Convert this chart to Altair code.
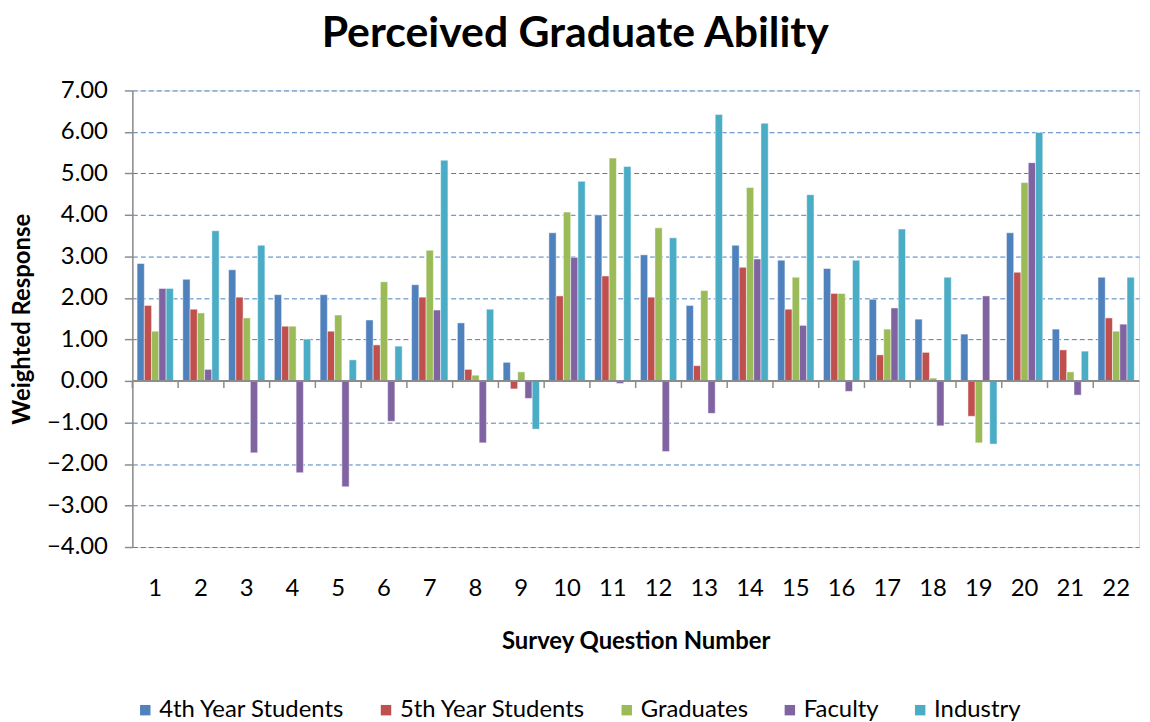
import altair as alt
import pandas as pd

questions = [str(i) for i in range(1, 23)]
series = ["4th Year Students", "5th Year Students", "Graduates", "Faculty", "Industry"]
colors = ["#4F81BD", "#C0504D", "#9BBB59", "#8064A2", "#4BACC6"]

fourth = [2.83, 2.45, 2.68, 2.08, 2.08, 1.47, 2.32, 1.40, 0.45, 3.57, 4.00,
          3.04, 1.82, 3.27, 2.91, 2.71, 1.97, 1.49, 1.13, 3.57, 1.25, 2.50]
fifth = [1.82, 1.73, 2.02, 1.32, 1.20, 0.87, 2.02, 0.28, -0.19, 2.05, 2.53,
         2.02, 0.37, 2.74, 1.73, 2.11, 0.63, 0.69, -0.85, 2.62, 0.75, 1.52]
graduates = [1.20, 1.64, 1.52, 1.32, 1.59, 2.39, 3.15, 0.14, 0.22, 4.07, 5.37,
             3.69, 2.18, 4.66, 2.50, 2.11, 1.25, 0.07, -1.49, 4.78, 0.22, 1.20]
faculty = [2.23, 0.28, -1.73, -2.21, -2.55, -0.97, 1.71, -1.49, -0.42, 2.98, -0.06,
           -1.70, -0.78, 2.94, 1.34, -0.25, 1.76, -1.08, 2.05, 5.26, -0.34, 1.37]
industry = [2.23, 3.62, 3.27, 1.01, 0.51, 0.84, 5.32, 1.73, -1.16, 4.81, 5.17,
            3.45, 6.42, 6.21, 4.49, 2.91, 3.66, 2.50, -1.52, 5.99, 0.72, 2.50]

y_ticks = [-4, -3, -2, -1, 0, 1, 2, 3, 4, 5, 6, 7]

values = [fourth, fifth, graduates, faculty, industry]
rows = []
for s, vals in zip(series, values):
    for q, v in zip(questions, vals):
        rows.append({"q": q, "series": s, "v": v})
df = pd.DataFrame(rows)
qdf = pd.DataFrame({"q": questions})

FONT = "Lato"
FS = 24

x_axis = alt.Axis(title="Survey Question Number", labelAngle=0, ticks=False,
                  domain=False, labelPadding=30, titlePadding=29,
                  labelFontSize=FS, titleFontSize=FS, titleFontWeight="bold",
                  labelColor="#000000", titleColor="#000000",
                  labelFont=FONT, titleFont=FONT)
x_scale = alt.Scale(paddingInner=0, paddingOuter=0)

y_enc = alt.Y("v:Q", scale=alt.Scale(domain=[-4, 7], nice=False),
              axis=alt.Axis(title="Weighted Response", values=y_ticks, format=".2f",
                            grid=True, gridDash=[5, 3], gridColor="#4A7EBB", gridWidth=1,
                            domainColor="#8C8C8C", domainWidth=1.5,
                            tickColor="#8C8C8C", tickSize=8, tickWidth=1.5,
                            labelPadding=17, titlePadding=12,
                            labelFontSize=FS, titleFontSize=FS, titleFontWeight="bold",
                            labelColor="#000000", titleColor="#000000",
                            labelFont=FONT, titleFont=FONT))

bars = alt.Chart(df).mark_bar(stroke="#FFFFFF", strokeWidth=0.6, strokeOpacity=0.8).encode(
    x=alt.X("q:N", sort=questions, scale=x_scale, axis=x_axis),
    xOffset=alt.XOffset("series:N", sort=series,
                        scale=alt.Scale(paddingInner=0, paddingOuter=0.65)),
    y=y_enc,
    color=alt.Color("series:N", sort=series,
                    scale=alt.Scale(domain=series, range=colors),
                    legend=alt.Legend(title=None, orient="none", legendX=1, legendY=611,
                                      direction="horizontal", columns=5,
                                      symbolType="square", symbolSize=110,
                                      symbolStrokeWidth=0, labelFontSize=FS,
                                      labelFont=FONT, labelColor="#000000",
                                      labelLimit=0, labelOffset=2, columnPadding=29)),
)

zero = alt.Chart(qdf).mark_rule(color="#8C8C8C", strokeWidth=1.5).encode(
    y=alt.datum(0)
)

ticks = alt.Chart(qdf).mark_rule(color="#8C8C8C", strokeWidth=1.5).encode(
    x=alt.X("q:N", sort=questions, scale=x_scale, axis=x_axis, bandPosition=0),
    y=alt.datum(0),
    y2=alt.datum(-0.17),
)

chart = alt.layer(bars, zero, ticks).properties(
    width=1012,
    height=459,
    title=alt.TitleParams("Perceived Graduate Ability", font=FONT, fontSize=43,
                          fontWeight="bold", color="#000000", frame="bounds",
                          anchor="middle", offset=23),
    autosize=alt.AutoSizeParams(type="none"),
    padding={"left": 125, "top": 81, "right": 3, "bottom": 174},
).configure_view(
    stroke="#A7BEDD", strokeWidth=1.5
).configure(background="#FFFFFF")

chart.save("out.html", embed_options={"renderer": "svg", "actions": False})
